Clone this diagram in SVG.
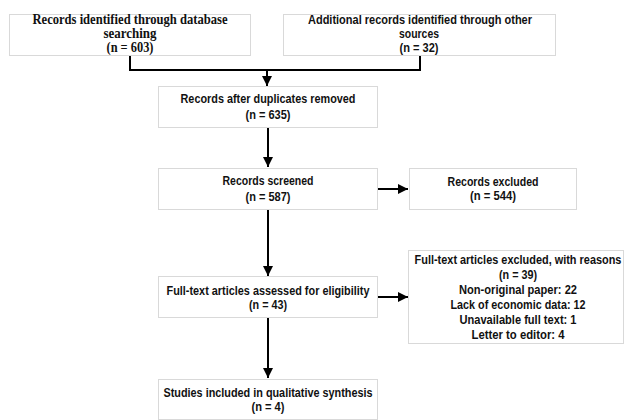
<svg xmlns="http://www.w3.org/2000/svg" width="624" height="420" viewBox="0 0 624 420">
<defs>
<marker id="ah" viewBox="0 0 10 10" refX="10" refY="5" markerWidth="10" markerHeight="10" markerUnits="userSpaceOnUse" orient="auto">
<path d="M0,0 L10,5 L0,10 Z" fill="#000"/>
</marker>
<style>
.box{fill:#fff;stroke:#d9d9d9;stroke-width:1}
.t{font-family:"Liberation Sans",Arial,sans-serif;font-weight:bold;font-size:13px;fill:#111;text-anchor:middle}
.s{font-family:"Liberation Serif","Times New Roman",serif;font-weight:bold;font-size:14px;fill:#111;text-anchor:middle}
.c{fill:none;stroke:#000;stroke-width:2}
</style>
</defs>
<rect width="624" height="420" fill="#fff"/>
<g id="connectors">
<path class="c" d="M130,55 V70 H420 V55"/>
<path class="c" d="M267,70 V86" marker-end="url(#ah)"/>
<path class="c" d="M268,127 V167" marker-end="url(#ah)"/>
<path class="c" d="M378,189 H408" marker-end="url(#ah)"/>
<path class="c" d="M268,209 V276" marker-end="url(#ah)"/>
<path class="c" d="M378,297 H408" marker-end="url(#ah)"/>
<path class="c" d="M268,317 V378" marker-end="url(#ah)"/>
</g>
<g id="n1">
<rect class="box" x="9.5" y="14.5" width="241" height="41"/>
<text class="s" x="130" y="24" textLength="195" lengthAdjust="spacingAndGlyphs">Records identified through database</text>
<text class="s" x="130" y="38" textLength="53" lengthAdjust="spacingAndGlyphs">searching</text>
<text class="s" x="130" y="52" textLength="47" lengthAdjust="spacingAndGlyphs">(n = 603)</text>
</g>
<g id="n2">
<rect class="box" x="283.5" y="14.5" width="272" height="41"/>
<text class="t" x="420" y="24" textLength="224" lengthAdjust="spacingAndGlyphs">Additional records identified through other</text>
<text class="t" x="419" y="38" textLength="40" lengthAdjust="spacingAndGlyphs">sources</text>
<text class="t" x="419" y="52" textLength="39" lengthAdjust="spacingAndGlyphs">(n = 32)</text>
</g>
<g id="n3">
<rect class="box" x="158.5" y="86.5" width="219" height="41"/>
<text class="t" x="268" y="103" textLength="175" lengthAdjust="spacingAndGlyphs">Records after duplicates removed</text>
<text class="t" x="268" y="119" textLength="45" lengthAdjust="spacingAndGlyphs">(n = 635)</text>
</g>
<g id="n4">
<rect class="box" x="158.5" y="168.5" width="219" height="41"/>
<text class="t" x="268" y="185" textLength="91" lengthAdjust="spacingAndGlyphs">Records screened</text>
<text class="t" x="268" y="201" textLength="45" lengthAdjust="spacingAndGlyphs">(n = 587)</text>
</g>
<g id="n5">
<rect class="box" x="409.5" y="168.5" width="167" height="41"/>
<text class="t" x="493" y="186" textLength="91" lengthAdjust="spacingAndGlyphs">Records excluded</text>
<text class="t" x="493" y="200" textLength="46" lengthAdjust="spacingAndGlyphs">(n = 544)</text>
</g>
<g id="n6">
<rect class="box" x="158.5" y="276.5" width="219" height="41"/>
<text class="t" x="268" y="295" textLength="203" lengthAdjust="spacingAndGlyphs">Full-text articles assessed for eligibility</text>
<text class="t" x="268" y="309" textLength="38" lengthAdjust="spacingAndGlyphs">(n = 43)</text>
</g>
<g id="n7">
<rect class="box" x="408.5" y="250.5" width="215" height="93"/>
<text class="t" transform="translate(518,264) scale(0.84,1)" x="0" y="0">Full-text articles excluded, with reasons</text>
<text class="t" x="518" y="279" textLength="38" lengthAdjust="spacingAndGlyphs">(n = 39)</text>
<text class="t" x="518" y="294" textLength="118" lengthAdjust="spacingAndGlyphs">Non-original paper: 22</text>
<text class="t" x="518" y="309" textLength="135" lengthAdjust="spacingAndGlyphs">Lack of economic data: 12</text>
<text class="t" x="518" y="324" textLength="117" lengthAdjust="spacingAndGlyphs">Unavailable full text: 1</text>
<text class="t" x="518" y="339" textLength="93" lengthAdjust="spacingAndGlyphs">Letter to editor: 4</text>
</g>
<g id="n8">
<rect class="box" x="158.5" y="379.5" width="219" height="40"/>
<text class="t" x="268" y="397" textLength="209" lengthAdjust="spacingAndGlyphs">Studies included in qualitative synthesis</text>
<text class="t" x="268" y="411" textLength="33" lengthAdjust="spacingAndGlyphs">(n = 4)</text>
</g>
</svg>
